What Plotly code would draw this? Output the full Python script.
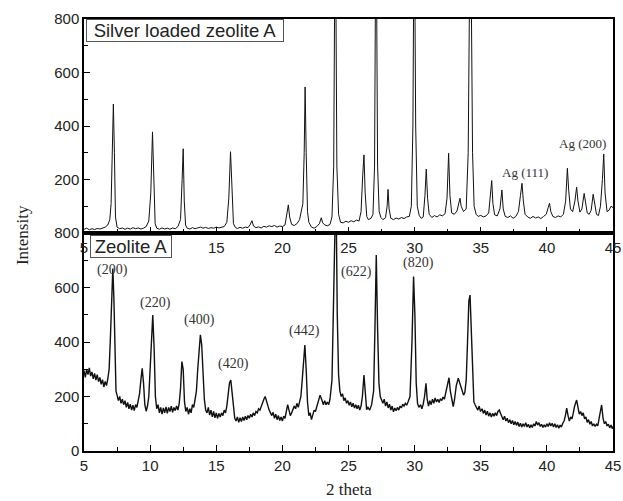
import plotly.graph_objects as go

# ---- Silver loaded zeolite A (top panel) ----
ag_pts = [
    (5.0, 14), (5.2, 18), (5.4, 12), (5.6, 16), (5.8, 13), (6.0, 17), (6.2, 15), (6.4, 19),
    (6.6, 22), (6.8, 30), (6.95, 50), (7.05, 110), (7.15, 300), (7.22, 482), (7.3, 300),
    (7.38, 60), (7.5, 22), (7.7, 16), (7.9, 19), (8.1, 14), (8.3, 18), (8.5, 15), (8.7, 20),
    (8.9, 16), (9.1, 19), (9.3, 15), (9.5, 18), (9.7, 24), (9.9, 45), (10.05, 150),
    (10.18, 378), (10.28, 160), (10.38, 35), (10.5, 18), (10.7, 14), (10.9, 19), (11.1, 15),
    (11.3, 18), (11.5, 14), (11.7, 19), (11.9, 16), (12.1, 24), (12.3, 50), (12.42, 200),
    (12.5, 315), (12.58, 120), (12.68, 30), (12.8, 18), (13.0, 15), (13.2, 20), (13.4, 16),
    (13.6, 19), (13.8, 22), (14.0, 18), (14.2, 21), (14.4, 17), (14.6, 20), (14.8, 18),
    (15.0, 22), (15.2, 19), (15.4, 21), (15.6, 24), (15.8, 40), (15.95, 130), (16.08, 304),
    (16.18, 140), (16.3, 35), (16.45, 20), (16.6, 17), (16.8, 21), (17.0, 18), (17.2, 22),
    (17.4, 20), (17.55, 30), (17.7, 46), (17.82, 26), (18.0, 20), (18.2, 23), (18.4, 19),
    (18.6, 25), (18.8, 22), (19.0, 27), (19.2, 24), (19.4, 28), (19.6, 22), (19.8, 26),
    (20.0, 24), (20.2, 30), (20.35, 70), (20.45, 105), (20.55, 60), (20.7, 32), (20.9, 28),
    (21.1, 35), (21.3, 50), (21.45, 80), (21.55, 110), (21.65, 300), (21.72, 546),
    (21.8, 300), (21.9, 80), (22.0, 40), (22.2, 22), (22.4, 18), (22.6, 24), (22.8, 35),
    (22.94, 57), (23.05, 38), (23.2, 30), (23.4, 27), (23.6, 32), (23.75, 60), (23.88, 250),
    (24.0, 1300), (24.12, 250), (24.25, 70), (24.4, 40), (24.6, 38), (24.8, 44), (25.0, 40),
    (25.2, 46), (25.4, 42), (25.6, 48), (25.8, 45), (25.95, 80), (26.08, 220), (26.17, 292),
    (26.26, 150), (26.38, 62), (26.5, 50), (26.7, 55), (26.85, 70), (26.97, 250),
    (27.08, 1300), (27.2, 250), (27.32, 80), (27.45, 58), (27.6, 50), (27.8, 57),
    (27.92, 100), (27.99, 163), (28.07, 90), (28.2, 55), (28.4, 50), (28.6, 56), (28.8, 52),
    (29.0, 58), (29.2, 54), (29.4, 60), (29.6, 62), (29.75, 100), (29.87, 400),
    (29.97, 1300), (30.08, 400), (30.2, 100), (30.35, 65), (30.5, 55), (30.65, 60),
    (30.78, 140), (30.88, 239), (30.98, 130), (31.1, 70), (31.3, 58), (31.5, 65), (31.7, 60),
    (31.9, 68), (32.1, 64), (32.3, 72), (32.45, 130), (32.57, 298), (32.67, 140), (32.8, 75),
    (33.0, 70), (33.2, 82), (33.35, 110), (33.43, 130), (33.52, 100), (33.7, 80), (33.9, 90),
    (34.05, 300), (34.22, 1300), (34.38, 300), (34.5, 100), (34.65, 70), (34.8, 62),
    (35.0, 66), (35.2, 60), (35.4, 64), (35.6, 75), (35.75, 150), (35.83, 196), (35.92, 110),
    (36.05, 68), (36.25, 64), (36.45, 90), (36.6, 161), (36.7, 90), (36.85, 62), (37.05, 58),
    (37.25, 64), (37.45, 55), (37.65, 62), (37.85, 80), (38.0, 140), (38.12, 186),
    (38.22, 120), (38.35, 70), (38.55, 60), (38.75, 55), (38.95, 62), (39.15, 56),
    (39.35, 60), (39.55, 54), (39.75, 62), (39.95, 70), (40.1, 95), (40.2, 111), (40.3, 80),
    (40.45, 62), (40.65, 58), (40.85, 64), (41.05, 60), (41.25, 70), (41.42, 120),
    (41.55, 242), (41.65, 160), (41.78, 90), (41.95, 80), (42.12, 120), (42.25, 171),
    (42.35, 120), (42.5, 78), (42.65, 90), (42.82, 148), (42.92, 110), (43.05, 75),
    (43.2, 70), (43.35, 85), (43.5, 145), (43.6, 110), (43.75, 70), (43.9, 65), (44.05, 100),
    (44.2, 200), (44.3, 295), (44.4, 150), (44.55, 80), (44.7, 85), (44.85, 100), (45.0, 95),
]
ag_x = [p[0] for p in ag_pts]
ag_y = [p[1] for p in ag_pts]

# ---- Zeolite A (bottom panel) ----
za_pts = [
    (5.0, 295), (5.1, 270), (5.2, 300), (5.3, 280), (5.4, 305), (5.5, 275), (5.6, 290),
    (5.7, 265), (5.8, 285), (5.9, 260), (6.0, 280), (6.1, 255), (6.2, 270), (6.3, 245),
    (6.4, 262), (6.5, 235), (6.6, 255), (6.7, 240), (6.8, 265), (6.9, 300), (7.0, 420),
    (7.1, 580), (7.18, 670), (7.26, 560), (7.34, 350), (7.42, 220), (7.5, 205), (7.6, 185),
    (7.7, 200), (7.8, 175), (7.9, 190), (8.0, 170), (8.1, 185), (8.2, 160), (8.3, 178),
    (8.4, 155), (8.5, 172), (8.6, 150), (8.7, 168), (8.8, 148), (8.9, 170), (9.0, 160),
    (9.1, 185), (9.2, 210), (9.3, 260), (9.4, 303), (9.5, 250), (9.6, 170), (9.7, 146),
    (9.8, 165), (9.9, 200), (10.0, 300), (10.1, 430), (10.2, 499), (10.3, 380), (10.4, 200),
    (10.5, 155), (10.6, 170), (10.7, 140), (10.8, 160), (10.9, 135), (11.0, 158),
    (11.1, 140), (11.2, 162), (11.3, 138), (11.4, 160), (11.5, 145), (11.6, 165),
    (11.7, 142), (11.8, 160), (11.9, 148), (12.0, 165), (12.1, 150), (12.2, 175),
    (12.3, 230), (12.4, 328), (12.5, 300), (12.6, 180), (12.7, 145), (12.8, 160),
    (12.9, 135), (13.0, 155), (13.1, 140), (13.2, 170), (13.3, 160), (13.4, 185),
    (13.5, 220), (13.6, 300), (13.7, 380), (13.8, 426), (13.9, 390), (14.0, 280),
    (14.1, 190), (14.2, 150), (14.3, 140), (14.4, 160), (14.5, 132), (14.6, 150),
    (14.7, 125), (14.8, 145), (14.9, 122), (15.0, 140), (15.1, 120), (15.2, 138),
    (15.3, 125), (15.4, 140), (15.5, 130), (15.6, 150), (15.7, 140), (15.8, 165),
    (15.9, 200), (16.0, 250), (16.1, 260), (16.2, 210), (16.3, 150), (16.4, 120),
    (16.5, 110), (16.6, 125), (16.7, 105), (16.8, 122), (16.9, 108), (17.0, 125),
    (17.1, 112), (17.2, 128), (17.3, 115), (17.4, 130), (17.5, 120), (17.6, 135),
    (17.7, 125), (17.8, 140), (17.9, 130), (18.0, 145), (18.1, 140), (18.2, 155),
    (18.3, 150), (18.4, 165), (18.5, 180), (18.6, 190), (18.7, 200), (18.8, 180),
    (18.9, 170), (19.0, 150), (19.1, 140), (19.2, 130), (19.3, 142), (19.4, 120),
    (19.5, 135), (19.6, 115), (19.7, 130), (19.8, 112), (19.9, 125), (20.0, 110),
    (20.1, 128), (20.2, 120), (20.3, 145), (20.4, 170), (20.5, 150), (20.6, 130),
    (20.7, 140), (20.8, 150), (20.9, 165), (21.0, 155), (21.1, 175), (21.2, 160),
    (21.3, 185), (21.4, 200), (21.5, 260), (21.6, 330), (21.7, 389), (21.8, 300),
    (21.9, 180), (22.0, 130), (22.1, 140), (22.2, 115), (22.3, 135), (22.4, 150),
    (22.5, 145), (22.6, 165), (22.7, 185), (22.85, 205), (23.0, 185), (23.1, 170),
    (23.2, 185), (23.3, 170), (23.4, 180), (23.5, 170), (23.6, 190), (23.75, 260),
    (23.85, 500), (23.95, 1000), (24.05, 1000), (24.15, 500), (24.25, 280), (24.35, 220),
    (24.45, 200), (24.55, 210), (24.65, 185), (24.75, 195), (24.85, 175), (24.95, 185),
    (25.05, 168), (25.15, 180), (25.25, 162), (25.35, 175), (25.45, 158), (25.55, 170),
    (25.65, 155), (25.75, 168), (25.85, 150), (25.95, 165), (26.05, 200), (26.17, 279),
    (26.27, 200), (26.37, 152), (26.47, 160), (26.6, 150), (26.75, 170), (26.9, 220),
    (27.0, 450), (27.1, 719), (27.2, 450), (27.3, 250), (27.4, 200), (27.5, 190),
    (27.6, 175), (27.7, 190), (27.8, 165), (27.9, 180), (28.0, 158), (28.1, 172),
    (28.2, 150), (28.3, 165), (28.4, 144), (28.5, 158), (28.6, 148), (28.7, 160),
    (28.8, 150), (28.9, 165), (29.0, 158), (29.1, 172), (29.2, 165), (29.3, 175),
    (29.4, 168), (29.5, 180), (29.65, 200), (29.8, 400), (29.92, 640), (30.02, 500),
    (30.12, 250), (30.22, 175), (30.32, 160), (30.45, 170), (30.55, 155), (30.65, 172),
    (30.75, 200), (30.86, 248), (30.95, 190), (31.05, 165), (31.15, 185), (31.25, 170),
    (31.35, 190), (31.45, 175), (31.55, 195), (31.65, 180), (31.75, 190), (31.85, 178),
    (31.95, 192), (32.05, 185), (32.15, 198), (32.25, 190), (32.35, 210), (32.5, 250),
    (32.6, 269), (32.7, 220), (32.82, 180), (32.92, 163), (33.02, 190), (33.15, 240),
    (33.3, 267), (33.4, 250), (33.5, 230), (33.6, 215), (33.7, 205), (33.8, 215),
    (33.9, 260), (34.0, 400), (34.1, 550), (34.19, 572), (34.28, 450), (34.38, 250),
    (34.48, 180), (34.58, 169), (34.68, 160), (34.78, 150), (34.88, 165), (34.98, 145),
    (35.1, 155), (35.2, 138), (35.3, 150), (35.4, 132), (35.5, 146), (35.6, 128),
    (35.7, 140), (35.8, 125), (35.9, 138), (36.0, 128), (36.1, 140), (36.2, 130),
    (36.3, 145), (36.4, 150), (36.5, 138), (36.6, 125), (36.7, 115), (36.8, 128),
    (36.9, 110), (37.0, 120), (37.1, 104), (37.2, 115), (37.3, 100), (37.4, 112),
    (37.5, 96), (37.6, 108), (37.7, 94), (37.8, 106), (37.9, 90), (38.0, 102), (38.1, 88),
    (38.2, 100), (38.3, 90), (38.4, 104), (38.5, 88), (38.6, 98), (38.7, 85), (38.8, 96),
    (38.9, 86), (39.0, 100), (39.1, 92), (39.2, 108), (39.3, 95), (39.4, 104), (39.5, 90),
    (39.6, 98), (39.7, 86), (39.8, 96), (39.9, 88), (40.0, 100), (40.1, 90), (40.2, 104),
    (40.3, 92), (40.4, 102), (40.5, 88), (40.6, 100), (40.7, 86), (40.8, 96), (40.9, 84),
    (41.0, 95), (41.1, 88), (41.2, 102), (41.3, 110), (41.4, 130), (41.5, 157),
    (41.6, 130), (41.7, 110), (41.8, 125), (41.9, 118), (42.0, 140), (42.1, 165),
    (42.25, 187), (42.35, 160), (42.45, 135), (42.55, 145), (42.65, 130), (42.75, 140),
    (42.85, 118), (42.95, 125), (43.05, 105), (43.15, 115), (43.25, 98), (43.35, 108),
    (43.45, 92), (43.55, 100), (43.65, 90), (43.75, 98), (43.85, 92), (43.95, 120),
    (44.05, 150), (44.14, 169), (44.25, 120), (44.35, 100), (44.45, 108), (44.55, 92),
    (44.65, 98), (44.75, 85), (44.85, 95), (44.95, 82), (45.0, 90),
]
za_x = [p[0] for p in za_pts]
za_y = [p[1] for p in za_pts]

x_ticks = [5, 10, 15, 20, 25, 30, 35, 40, 45]
x_tick_text_bottom = ["5", "10", "15", "20", "25", "30", "35", "40", "45"]
x_tick_text_top = ["5", "", "15", "20", "25", "30", "35", "40", "45"]
top_y_ticks = [200, 400, 600, 800]
bot_y_ticks = [0, 200, 400, 600, 800]

# peak labels: (text, x, y)
za_labels = [("(200)", 7.12, 664), ("(220)", 10.37, 543), ("(400)", 13.70, 481),
             ("(420)", 16.27, 319), ("(442)", 21.71, 440), ("(622)", 25.64, 657),
             ("(820)", 30.26, 690)]
ag_labels = [("Ag (111)", 38.35, 228), ("Ag (200)", 42.73, 336)]

fig = go.Figure()
fig.add_trace(go.Scatter(x=ag_x, y=ag_y, mode="lines", xaxis="x2", yaxis="y2",
                         line=dict(color="#111111", width=1), showlegend=False))
fig.add_trace(go.Scatter(x=za_x, y=za_y, mode="lines", xaxis="x", yaxis="y",
                         line=dict(color="#111111", width=1.4), showlegend=False))

split = 0.5046
tickfont = dict(family="Liberation Sans, Arial, sans-serif", size=15, color="#222")
common_x = dict(range=[5, 45], tickvals=x_ticks, ticks="inside", ticklen=6, tickwidth=1.3,
                tickcolor="black", showline=True, linecolor="black", linewidth=1.5,
                mirror=True, showgrid=False, zeroline=False, tickfont=tickfont,
                ticklabeloverflow="allow", automargin=False,
                minor=dict(ticks="inside", ticklen=4, dtick=2.5, tickcolor="black",
                           tickwidth=1.2, showgrid=False))
common_y = dict(range=[0, 800], ticks="inside", ticklen=6, tickwidth=1.3, tickcolor="black",
                showline=True, linecolor="black", linewidth=1.5, mirror=True,
                showgrid=False, zeroline=False, tickfont=tickfont, automargin=False,
                minor=dict(ticks="inside", ticklen=4, dtick=100, tickcolor="black",
                           tickwidth=1.2, showgrid=False))

fig.update_layout(
    width=623, height=501,
    margin=dict(l=84, r=10, t=19, b=50, autoexpand=False),
    paper_bgcolor="white", plot_bgcolor="white",
    xaxis=dict(common_x, domain=[0, 1], anchor="y", ticktext=x_tick_text_bottom),
    yaxis=dict(common_y, domain=[0, split], anchor="x", tickvals=bot_y_ticks),
    xaxis2=dict(common_x, domain=[0, 1], anchor="y2", ticktext=x_tick_text_top),
    yaxis2=dict(common_y, domain=[split, 1], anchor="x2", tickvals=top_y_ticks),
)

serif = "Liberation Serif, Times New Roman, serif"
sans = "Liberation Sans, Arial, sans-serif"
ann = []
for t, x, y in za_labels:
    ann.append(dict(text=t, x=x, y=y, xref="x", yref="y", showarrow=False,
                    font=dict(family=serif, size=14, color="#333")))
for t, x, y in ag_labels:
    ann.append(dict(text=t, x=x, y=y, xref="x2", yref="y2", showarrow=False,
                    font=dict(family=serif, size=13, color="#333")))
ann.append(dict(text="Silver loaded zeolite A", x=5.12, y=800, xref="x2", yref="y2",
                xanchor="left", yanchor="top", width=196, align="center",
                showarrow=False, font=dict(family=sans, size=18.5, color="#222"),
                bgcolor="white", bordercolor="#555", borderwidth=1, borderpad=0))
ann.append(dict(text="Zeolite A", x=5.45, y=793, xref="x", yref="y",
                xanchor="left", yanchor="top", width=80, align="center",
                showarrow=False, font=dict(family=sans, size=18.5, color="#222"),
                bgcolor="white", bordercolor="#555", borderwidth=1, borderpad=0))
ann.append(dict(text="Intensity", x=-0.117, y=0.5, xref="paper", yref="paper",
                xanchor="center", yanchor="middle",
                showarrow=False, textangle=-90,
                font=dict(family=serif, size=17, color="#222")))
ann.append(dict(text="2 theta", x=0.5, y=-0.09, xref="paper", yref="paper",
                xanchor="center", yanchor="middle",
                showarrow=False,
                font=dict(family=serif, size=17, color="#222")))
fig.update_layout(annotations=ann)

# remove the browser's default 8px page margin so the 623x501 figure fills the window
fig.write_html("out.html", config={"displayModeBar": False},
               post_script="document.body.style.margin='0';document.body.style.padding='0';")
